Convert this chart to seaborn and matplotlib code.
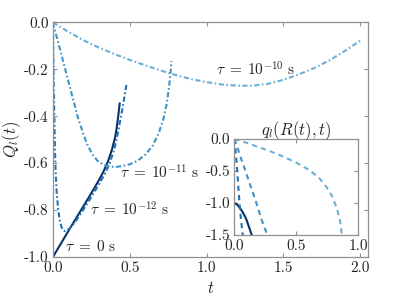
import numpy as np
import pandas as pd
import seaborn as sns
import matplotlib
import matplotlib.pyplot as plt
from matplotlib.ticker import FormatStrFormatter

sns.set_theme(style="ticks")
plt.rcParams['font.family'] = ['cmr10', 'DejaVu Serif']
plt.rcParams['mathtext.fontset'] = 'cm'
plt.rcParams['axes.unicode_minus'] = False
plt.rcParams['axes.formatter.use_mathtext'] = False

# main panel: Q_l(t) for each tau
t_0 = [0, 0.05, 0.10, 0.15, 0.20, 0.25, 0.30, 0.33, 0.36, 0.385, 0.405, 0.415, 0.425, 0.432, 0.435]
Q_0 = [-1.0, -0.945, -0.89, -0.836, -0.782, -0.728, -0.672, -0.635, -0.59, -0.54, -0.49,
       -0.45, -0.40, -0.36, -0.345]

t_12 = [0, 0.002, 0.005, 0.009, 0.013, 0.018, 0.025, 0.035, 0.045, 0.055, 0.065, 0.078,
        0.09, 0.11, 0.14, 0.18, 0.22, 0.26, 0.30, 0.34, 0.37, 0.40, 0.425, 0.445, 0.46,
        0.47, 0.478]
Q_12 = [0, -0.1, -0.25, -0.4, -0.53, -0.64, -0.73, -0.80, -0.845, -0.87, -0.885, -0.89,
        -0.888, -0.877, -0.855, -0.817, -0.776, -0.733, -0.69, -0.643, -0.60, -0.54, -0.465,
        -0.395, -0.338, -0.30, -0.267]

t_11 = [0, 0.04, 0.08, 0.12, 0.16, 0.20, 0.23, 0.26, 0.29, 0.33, 0.37, 0.41, 0.45, 0.50,
        0.55, 0.60, 0.65, 0.69, 0.72, 0.74, 0.755, 0.765, 0.772]
Q_11 = [0, -0.1, -0.2, -0.3, -0.4, -0.48, -0.53, -0.565, -0.59, -0.607, -0.615, -0.616,
        -0.613, -0.605, -0.59, -0.565, -0.525, -0.47, -0.41, -0.35, -0.28, -0.22, -0.165]

t_10 = [0, 0.1, 0.2, 0.3, 0.4, 0.5, 0.6, 0.7, 0.8, 0.9, 1.0, 1.1, 1.2, 1.3, 1.4, 1.5,
        1.6, 1.7, 1.8, 1.9, 2.0]
Q_10 = [0, -0.04, -0.077, -0.108, -0.135, -0.16, -0.183, -0.205, -0.225, -0.242, -0.255,
        -0.265, -0.27, -0.27, -0.262, -0.245, -0.222, -0.195, -0.162, -0.122, -0.078]

# inset: q_l(R(t), t)
ti_0 = [0, 0.02, 0.046, 0.07, 0.086, 0.1, 0.112, 0.125, 0.14]
qi_0 = [-1.0, -1.02, -1.08, -1.15, -1.21, -1.27, -1.34, -1.41, -1.5]
ti_12 = [0, 0.006, 0.019, 0.032, 0.046, 0.058, 0.068]
qi_12 = [0, -0.1, -0.38, -0.74, -1.11, -1.33, -1.5]
ti_11 = [0, 0.02, 0.05, 0.09, 0.13, 0.17, 0.21, 0.24, 0.267]
qi_11 = [0, -0.1, -0.28, -0.5, -0.73, -0.95, -1.2, -1.37, -1.5]
ti_10 = [0, 0.1, 0.2, 0.3, 0.4, 0.5, 0.6, 0.68, 0.74, 0.79, 0.83, 0.855, 0.867]
qi_10 = [0, -0.06, -0.13, -0.2, -0.28, -0.37, -0.48, -0.6, -0.74, -0.9, -1.1, -1.3, -1.5]

colors = ['#08306b', '#2171b5', '#4292c6', '#6baed6']
labels = [r'$\tau\;=\;0\ \mathrm{s}$', r'$\tau\;=\;10^{-12}\ \mathrm{s}$',
          r'$\tau\;=\;10^{-11}\ \mathrm{s}$', r'$\tau\;=\;10^{-10}\ \mathrm{s}$']
label_pos = [(0.078, -0.955), (0.24, -0.80), (0.435, -0.64), (1.32, -0.20)]

main_curves = [(t_0, Q_0), (t_12, Q_12), (t_11, Q_11), (t_10, Q_10)]
inset_curves = [(ti_0, qi_0), (ti_12, qi_12), (ti_11, qi_11), (ti_10, qi_10)]

fig = plt.figure(figsize=(4.07, 3.04), dpi=100)
ax = fig.add_axes([0.130, 0.1546, 0.774, 0.772])


def style_axes(a, fs):
    for s in a.spines.values():
        s.set_color('#909090')
        s.set_linewidth(0.9)
    a.tick_params(direction='in', top=True, right=True, length=3, width=0.8,
                  color='#909090', labelsize=fs, pad=3)
    a.yaxis.set_major_formatter(FormatStrFormatter('%.1f'))
    a.xaxis.set_major_formatter(FormatStrFormatter('%.1f'))


for i, (x, y) in enumerate(main_curves):
    ls = '-' if i == 0 else (0, (2.5, 1.2, 0.8, 1.2))
    sns.lineplot(x=x, y=y, ax=ax, color=colors[i], linestyle=ls, lw=1.5,
                 estimator=None, sort=False)

for i in range(4):
    ax.text(label_pos[i][0], label_pos[i][1], labels[i], fontsize=11,
            va='center', ha='center' if i == 3 else 'left')

ax.set_xlim(0, 2.05)
ax.set_ylim(-1.0, 0.0)
ax.set_xticks([0, 0.5, 1.0, 1.5, 2.0])
ax.set_yticks([0, -0.2, -0.4, -0.6, -0.8, -1.0])
style_axes(ax, 11)
ax.set_xlabel(r'$t$', fontsize=12, labelpad=4)
ax.set_ylabel(r'$Q_l(t)$', fontsize=12, labelpad=1)

axin = fig.add_axes([0.5757, 0.227, 0.3047, 0.3158])
for i, (x, y) in enumerate(inset_curves):
    ls = '-' if i == 0 else (0, (2.5, 2.0))
    sns.lineplot(x=x, y=y, ax=axin, color=colors[i], linestyle=ls, lw=1.5,
                 estimator=None, sort=False)
axin.set_xlim(0, 1.0)
axin.set_ylim(-1.5, 0.0)
axin.set_xticks([0, 0.5, 1.0])
axin.set_yticks([0, -0.5, -1.0, -1.5])
style_axes(axin, 11)
axin.set_xlabel('')
axin.set_ylabel('')
axin.set_title(r'$q_l(R(t),t)$', fontsize=12, pad=3)

fig.savefig('out.png', dpi=100)
